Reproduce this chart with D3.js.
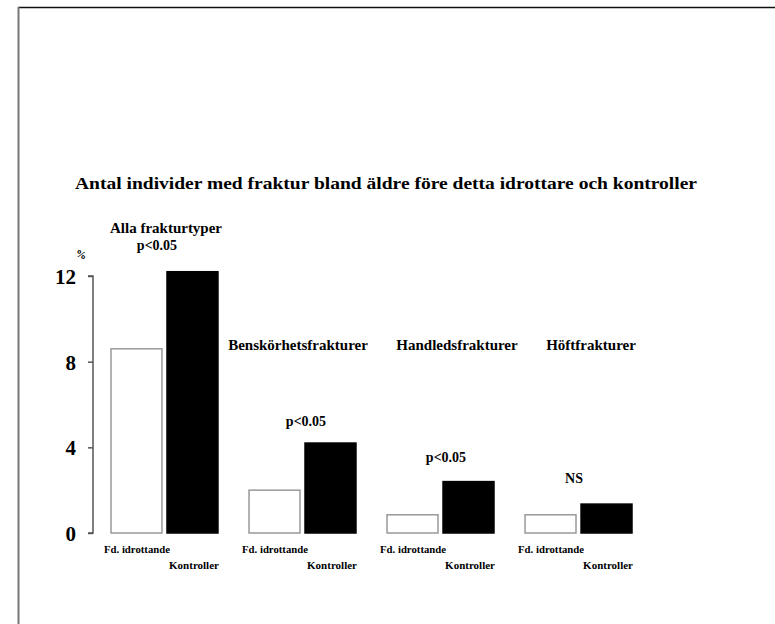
<!DOCTYPE html>
<html>
<head>
<meta charset="utf-8">
<script src="https://cdn.jsdelivr.net/npm/d3@7"></script>
<style>
  html, body { margin: 0; padding: 0; background: #fff; }
  svg { display: block; }
  text { font-family: "Liberation Serif", "Times New Roman", serif; font-weight: bold; fill: #000; }
</style>
</head>
<body>
<svg id="chart" width="775" height="624"></svg>
<script>
const categories = ["Alla frakturtyper", "Benskörhetsfrakturer", "Handledsfrakturer", "Höftfrakturer"];
const seriesNames = ["Fd. idrottande", "Kontroller"];
const idrottande = [8.6, 2.0, 0.85, 0.85];
const kontroller = [12.2, 4.2, 2.4, 1.35];
const significance = ["p<0.05", "p<0.05", "p<0.05", "NS"];
const yTicks = [0, 4, 8, 12];
const title = "Antal individer med fraktur bland äldre före detta idrottare och kontroller";

const svg = d3.select("#chart");

// frame
svg.append("line").attr("x1", 18).attr("x2", 775).attr("y1", 7.5).attr("y2", 7.5)
  .attr("stroke", "#111").attr("stroke-width", 1.5);
svg.append("line").attr("x1", 18.5).attr("x2", 18.5).attr("y1", 7).attr("y2", 624)
  .attr("stroke", "#777").attr("stroke-width", 2);

const x = d3.scaleBand().domain(categories).range([111, 632]).paddingInner(0.225).paddingOuter(0);
const xs = d3.scaleBand().domain(seriesNames).range([0, x.bandwidth()]).paddingInner(0.09);
const y = d3.scaleLinear().domain([0, 12]).range([533, 276]);

const data = categories.map((c, i) => ({ cat: c, vals: [idrottande[i], kontroller[i]], sig: significance[i] }));

// title
svg.append("text").attr("x", 75).attr("y", 189).attr("font-size", 17)
  .attr("textLength", 622).attr("lengthAdjust", "spacingAndGlyphs").text(title);

// axis
const axis = d3.axisLeft(y).tickValues(yTicks).tickSize(5).tickPadding(12);
const gAxis = svg.append("g").attr("transform", "translate(93,0)").call(axis);
gAxis.select(".domain").attr("stroke", "#555").attr("stroke-width", 1.5).attr("d", "M-5," + y(12) + "H0V" + y(0) + "H-5");
gAxis.selectAll(".tick line").attr("stroke", "#555").attr("stroke-width", 1.5);
gAxis.selectAll(".tick text").attr("font-size", 21).attr("font-family", "Liberation Serif, serif")
  .attr("font-weight", "bold").attr("fill", "#000").attr("dy", "0.35em");

svg.append("text").attr("x", 81).attr("y", 258).attr("font-size", 11).attr("text-anchor", "middle")
  .attr("transform", "rotate(20,81,255)").text("%");

// bars
const groups = svg.append("g").selectAll("g").data(data).join("g")
  .attr("transform", d => `translate(${x(d.cat)},0)`);

groups.selectAll("rect").data(d => d.vals.map((v, j) => ({ s: seriesNames[j], v, j }))).join("rect")
  .attr("x", d => xs(d.s))
  .attr("y", d => y(d.v))
  .attr("width", xs.bandwidth())
  .attr("height", d => y(0) - y(d.v))
  .attr("fill", d => d.j === 0 ? "#fff" : "#000")
  .attr("stroke", d => d.j === 0 ? "#999" : "#000")
  .attr("stroke-width", 1.5);

// series labels under bars
groups.append("text").attr("x", -7).attr("y", 553).attr("font-size", 11)
  .attr("textLength", 66).attr("lengthAdjust", "spacingAndGlyphs").text(seriesNames[0]);
groups.append("text").attr("x", x.bandwidth() + 1).attr("y", 569).attr("font-size", 11)
  .attr("text-anchor", "end").text(seriesNames[1]);

// category labels
const catLabelPos = [
  { x: 166, y: 233 },
  { x: 298, y: 350 },
  { x: 457, y: 350 },
  { x: 591, y: 350 }
];
svg.append("g").selectAll("text").data(data).join("text")
  .attr("x", (d, i) => catLabelPos[i].x).attr("y", (d, i) => catLabelPos[i].y)
  .attr("font-size", 15).attr("text-anchor", "middle").text(d => d.cat);

// significance labels
const sigPos = [
  { x: 157, y: 250 },
  { x: 306, y: 426 },
  { x: 446, y: 462 },
  { x: 574, y: 483 }
];
svg.append("g").selectAll("text").data(data).join("text")
  .attr("x", (d, i) => sigPos[i].x).attr("y", (d, i) => sigPos[i].y)
  .attr("font-size", 14).attr("text-anchor", "middle").text(d => d.sig);
</script>
</body>
</html>
